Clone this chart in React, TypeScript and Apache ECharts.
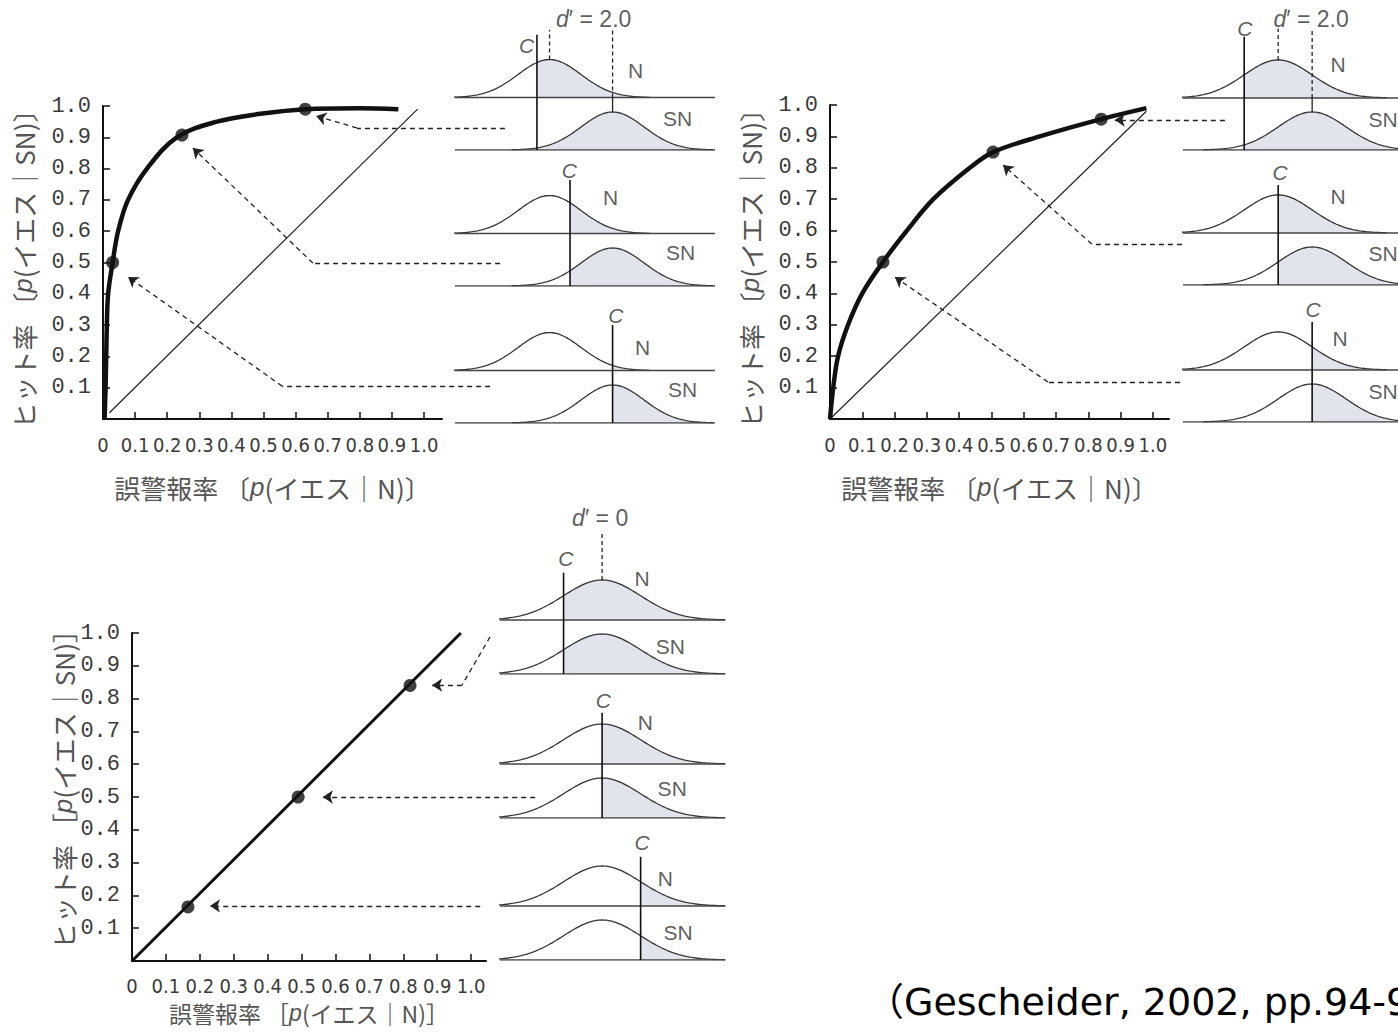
import React, { useEffect, useRef } from 'react';
import * as echarts from 'echarts';

// ---------- data ----------
const xTicks = [0, 0.1, 0.2, 0.3, 0.4, 0.5, 0.6, 0.7, 0.8, 0.9, 1.0];
const yTicks = [0.1, 0.2, 0.3, 0.4, 0.5, 0.6, 0.7, 0.8, 0.9, 1.0];

// ROC panel 1 (d' large)
const roc1Curve = [
  [0.005, 0], [0.008, 0.1], [0.01, 0.2], [0.012, 0.3], [0.016, 0.4], [0.03, 0.5],
  [0.047, 0.6], [0.078, 0.7], [0.137, 0.8], [0.23, 0.9], [0.355, 0.95],
  [0.49, 0.975], [0.63, 0.99], [0.8, 0.993], [0.92, 0.99],
];
const roc1Points = [[0.03, 0.5], [0.246, 0.907], [0.63, 0.99]];
const roc1Diagonal = [[0.02, 0.02], [0.98, 0.99]];

// ROC panel 2
const roc2Curve = [
  [0, 0], [0.01, 0.1], [0.025, 0.2], [0.056, 0.3], [0.1, 0.4], [0.164, 0.5],
  [0.238, 0.6], [0.32, 0.7], [0.433, 0.8], [0.505, 0.85], [0.65, 0.9],
  [0.84, 0.955], [0.98, 0.99],
];
const roc2Points = [[0.164, 0.5], [0.505, 0.85], [0.84, 0.955]];
const roc2Diagonal = [[0, 0], [0.98, 0.98]];

// ROC panel 3 (d' = 0)
const roc3Line = [[0, 0], [0.97, 1.0]];
const roc3Points = [[0.165, 0.165], [0.49, 0.5], [0.82, 0.84]];

// dashed arrows (ROC data units)
const roc1Arrows = [
  [[1.252, 0.93], [0.791, 0.93], [0.664, 0.968]],
  [[1.237, 0.498], [0.654, 0.498], [0.28, 0.866]],
  [[1.206, 0.105], [0.558, 0.105], [0.078, 0.454]],
];
const roc2Arrows = [
  [[1.223, 0.952], [0.882, 0.952]],
  [[1.09, 0.557], [0.811, 0.557], [0.536, 0.809]],
  [[1.084, 0.118], [0.675, 0.118], [0.201, 0.452]],
];
const roc3Arrows = [
  [[1.056, 0.988], [0.973, 0.841], [0.885, 0.841]],
  [[1.189, 0.5], [0.563, 0.5]],
  [[1.027, 0.168], [0.23, 0.168]],
];

// signal detection distributions (sigma units, N mean = 0)
const dPrimeLabels = ['2.0', '2.0', '0'];
const snMeans = [2.0, 1.0, 0];
const criteria = [
  [-0.4, 0.65, 2.0],
  [-1.0, 0, 1.0],
  [-1.0, 0, 1.0],
];

// ---------- layout ----------
const rocLayout = [
  { left: 103, top: 106, width: 339, height: 313, xMax: 1.056, xName: '誤警報率 〔{i|p}(イエス｜N)〕', yName: 'ヒット率 〔{i|p}(イエス｜SN)〕', xGap: 55, yGap: 67, xMargin: 16, xFont: 26, yFont: 26, yPad: 0 },
  { left: 830, top: 105, width: 339, height: 314, xMax: 1.05, xName: '誤警報率 〔{i|p}(イエス｜N)〕', yName: 'ヒット率 〔{i|p}(イエス｜SN)〕', xGap: 55, yGap: 67, xMargin: 16, xFont: 26, yFont: 26, yPad: 0 },
  { left: 132, top: 633, width: 354, height: 328, xMax: 1.044, xName: '誤警報率 ［{i|p}(イエス｜N)］', yName: 'ヒット率 ［{i|p}(イエス｜SN)］', xGap: 40, yGap: 56, xMargin: 15, xFont: 23, yFont: 26, yPad: 28 },
];

const distLayout = [
  {
    left: 455, width: 260, xMin: -3.0, xMax: 5.25, U: 38, H: 1.38, snBase: [150, 286, 423],
    cTop: [3.03, 2.79, 2.58], cLabel: [[-0.73, 2.76], [0.63, 3.05], [2.1, 2.84]],
    nLabel: [[2.73, 2.1], [1.94, 2.32], [2.95, 2.0]], snLabel: [[4.06, 0.84], [4.16, 0.87], [4.22, 0.87]],
    dTop: 3.16, dLabel: [1.4, 3.45],
  },
  {
    left: 1183, width: 260, xMin: -2.8, xMax: 4.85, U: 38, H: 1.37, snBase: [150, 285, 422],
    cTop: [2.98, 2.63, 2.63], cLabel: [[-0.98, 3.2], [0.06, 2.97], [1.03, 2.95]],
    nLabel: [[1.76, 2.24], [1.76, 2.32], [1.82, 2.2]], snLabel: [[3.09, 0.79], [3.09, 0.84], [3.09, 0.79]],
    dTop: 3.2, dLabel: [0.97, 3.45],
  },
  {
    left: 500, width: 225, xMin: -2.65, xMax: 3.19, U: 40, H: 1.35, snBase: [674, 818, 960],
    cTop: [2.53, 2.63, 2.58], cLabel: [[-0.94, 2.9], [0.03, 2.95], [1.04, 2.93]],
    nLabel: [[1.04, 2.4], [1.12, 2.4], [1.64, 2.05]], snLabel: [[1.77, 0.68], [1.82, 0.75], [1.97, 0.68]],
    dTop: 3.55, dLabel: [-0.05, 3.9],
  },
];

const Y_MAX = 4.1;
const SHADE = '#e1e4eb';
const INK = '#222';
const CJK = "'Noto Sans CJK JP', sans-serif";
const NARROW = "'Liberation Sans Narrow', 'DejaVu Sans Condensed', 'Liberation Sans', sans-serif";

const normal = (z: number) => Math.exp(-z * z / 2);
function densityPoints(mean: number, from: number, to: number, offset: number) {
  const pts: number[][] = [];
  const step = 0.05;
  for (let x = from; x < to; x += step) pts.push([x, offset + normal(x - mean)]);
  pts.push([to, offset + normal(to - mean)]);
  return pts;
}

function buildOption() {
  const grid: any[] = [];
  const xAxis: any[] = [];
  const yAxis: any[] = [];
  const series: any[] = [];

  const rocCurves = [roc1Curve, roc2Curve, roc3Line];
  const rocPts = [roc1Points, roc2Points, roc3Points];
  const rocDiag = [roc1Diagonal, roc2Diagonal, null];
  const rocArr = [roc1Arrows, roc2Arrows, roc3Arrows];

  rocLayout.forEach((L, i) => {
    grid.push({ left: L.left, top: L.top, width: L.width, height: L.height, outerBoundsMode: 'none', containLabel: false });
    const nameStyle = (size: number, pad: number) => ({
      fontFamily: CJK, fontSize: size, color: '#555', padding: [0, 0, 0, pad],
      rich: { i: { fontFamily: "'Liberation Sans', sans-serif", fontStyle: 'italic', fontSize: size, color: '#555' } },
    });
    xAxis.push({
      gridIndex: i, type: 'value', min: 0, max: L.xMax,
      axisLine: { show: true, onZero: false, lineStyle: { color: '#111', width: 2 } },
      axisTick: { show: true, inside: true, length: 7, customValues: xTicks, lineStyle: { color: '#111', width: 1.5 } },
      axisLabel: {
        customValues: xTicks, margin: L.xMargin, fontFamily: NARROW, fontSize: 20, color: '#3a3a3a',
        formatter: (v: number) => (v === 0 ? '0' : v.toFixed(1)),
      },
      splitLine: { show: false },
      name: L.xName, nameLocation: 'middle', nameGap: L.xGap, nameTextStyle: nameStyle(L.xFont, 0),
    });
    yAxis.push({
      gridIndex: i, type: 'value', min: 0, max: 1,
      axisLine: { show: true, onZero: false, lineStyle: { color: '#111', width: 2 } },
      axisTick: { show: true, inside: true, length: 7, customValues: yTicks, lineStyle: { color: '#111', width: 1.5 } },
      axisLabel: {
        customValues: yTicks, margin: 12, fontFamily: "'Liberation Mono', monospace", fontSize: 22, color: '#3a3a3a',
        formatter: (v: number) => v.toFixed(1),
      },
      splitLine: { show: false },
      name: L.yName, nameLocation: 'middle', nameGap: L.yGap, nameRotate: 90, nameTextStyle: nameStyle(L.yFont, L.yPad),
    });
    const d = rocDiag[i];
    if (d) {
      series.push({
        type: 'line', xAxisIndex: i, yAxisIndex: i, data: d, showSymbol: false, symbol: 'none',
        lineStyle: { color: INK, width: 1.2 }, z: 2,
      });
    }
    series.push({
      type: 'line', xAxisIndex: i, yAxisIndex: i, data: rocCurves[i], smooth: i === 2 ? false : 0.35,
      showSymbol: false, symbol: 'none', lineStyle: { color: '#111', width: i === 2 ? 3 : 4.5 }, z: 3,
    });
    series.push({
      type: 'scatter', xAxisIndex: i, yAxisIndex: i, data: rocPts[i], symbolSize: 13,
      itemStyle: { color: '#111' }, z: 4,
    });
    const plain: any[] = [];
    const heads: any[] = [];
    rocArr[i].forEach((path) => {
      for (let k = 0; k < path.length - 1; k++) {
        const seg = { coords: [path[k], path[k + 1]] };
        if (k === path.length - 2) heads.push(seg); else plain.push(seg);
      }
    });
    const dash = { color: INK, width: 1.3, type: [5, 4], opacity: 1 };
    series.push({
      type: 'lines', coordinateSystem: 'cartesian2d', xAxisIndex: i, yAxisIndex: i, clip: false,
      symbol: ['none', 'none'], lineStyle: dash, data: plain, z: 5, silent: true,
    });
    series.push({
      type: 'lines', coordinateSystem: 'cartesian2d', xAxisIndex: i, yAxisIndex: i, clip: false,
      symbol: ['none', 'arrow'], symbolSize: [7, 10], lineStyle: dash, data: heads, z: 5, silent: true,
    });
  });

  let gi = 3;
  distLayout.forEach((C, c) => {
    const mSN = snMeans[c];
    for (let p = 0; p < 3; p++) {
      const h = Y_MAX * C.U;
      grid.push({ left: C.left, width: C.width, top: C.snBase[p] - h, height: h, outerBoundsMode: 'none', containLabel: false });
      xAxis.push({ gridIndex: gi, type: 'value', min: C.xMin, max: C.xMax, show: false });
      yAxis.push({ gridIndex: gi, type: 'value', min: 0, max: Y_MAX, show: false });
      const cr = criteria[c][p];
      const H = C.H;
      const base = { xAxisIndex: gi, yAxisIndex: gi, showSymbol: false, symbol: 'none' };
      series.push({
        ...base, type: 'line', data: densityPoints(0, cr, 3.2, H),
        lineStyle: { width: 0 }, areaStyle: { color: SHADE, opacity: 1, origin: H }, z: 1,
      });
      series.push({
        ...base, type: 'line', data: densityPoints(mSN, cr, mSN + 3.2, 0),
        lineStyle: { width: 0 }, areaStyle: { color: SHADE, opacity: 1, origin: 0 }, z: 1,
      });
      series.push({ ...base, type: 'line', data: densityPoints(0, -3.2, 3.2, H), lineStyle: { color: '#333', width: 1.3 }, z: 3 });
      series.push({ ...base, type: 'line', data: densityPoints(mSN, mSN - 3.2, mSN + 3.2, 0), lineStyle: { color: '#333', width: 1.3 }, z: 3 });
      series.push({ ...base, type: 'line', data: [[C.xMin, H], [C.xMax, H]], lineStyle: { color: '#444', width: 1.6 }, z: 3 });
      series.push({ ...base, type: 'line', data: [[C.xMin, 0], [C.xMax, 0]], lineStyle: { color: '#444', width: 1.6 }, z: 3 });
      series.push({ ...base, type: 'line', data: [[cr, 0], [cr, C.cTop[p]]], lineStyle: { color: '#111', width: 1.6 }, z: 4 });
      const lbl = (pos: number[], text: string, italic = false) => ({
        value: pos,
        label: {
          show: true, position: 'inside', formatter: text, fontSize: 21, color: '#333',
          fontFamily: "'Liberation Sans', sans-serif", fontStyle: italic ? 'italic' : 'normal',
        },
      });
      const labelData: any[] = [
        lbl(C.cLabel[p], 'C', true),
        lbl(C.nLabel[p], 'N'),
        lbl(C.snLabel[p], 'SN'),
      ];
      if (p === 0) {
        labelData.push({
          value: C.dLabel,
          label: {
            show: true, position: 'inside', formatter: '{i|d}′ = ' + dPrimeLabels[c], fontSize: 23, color: '#333',
            fontFamily: "'Liberation Sans', sans-serif",
            rich: { i: { fontStyle: 'italic', fontSize: 23, color: '#333', fontFamily: "'Liberation Sans', sans-serif" } },
          },
        });
        const dash = { color: '#222', width: 1.3, type: [4, 3] };
        series.push({ ...base, type: 'line', data: [[0, H + 1], [0, C.dTop]], lineStyle: dash, z: 4 });
        if (mSN !== 0) {
          series.push({ ...base, type: 'line', data: [[mSN, H], [mSN, C.dTop]], lineStyle: dash, z: 4 });
          series.push({ ...base, type: 'line', data: [[mSN, 1], [mSN, H]], lineStyle: { color: '#222', width: 1.3 }, z: 4 });
        }
      }
      series.push({
        type: 'scatter', xAxisIndex: gi, yAxisIndex: gi, symbolSize: 1, clip: false,
        itemStyle: { color: 'rgba(0,0,0,0)' }, data: labelData, z: 6, silent: true,
      });
      gi++;
    }
  });

  return {
    animation: false,
    backgroundColor: '#ffffff',
    grid, xAxis, yAxis, series,
    graphic: [
      {
        type: 'text', left: 866, top: 983,
        style: { text: '（Gescheider, 2002, pp.94-95）', font: "38px 'DejaVu Sans', 'Noto Sans CJK JP', sans-serif", fill: '#000' },
      },
    ],
  };
}

export default function App() {
  const ref = useRef<HTMLDivElement>(null);
  useEffect(() => {
    if (!ref.current) return;
    const chart = echarts.init(ref.current, null, { renderer: 'svg' });
    chart.setOption(buildOption() as any);
    return () => chart.dispose();
  }, []);
  return (
    <div
      ref={ref}
      style={{ position: 'absolute', left: 0, top: 0, width: 1398, height: 1032, background: '#fff', overflow: 'hidden' }}
    />
  );
}
